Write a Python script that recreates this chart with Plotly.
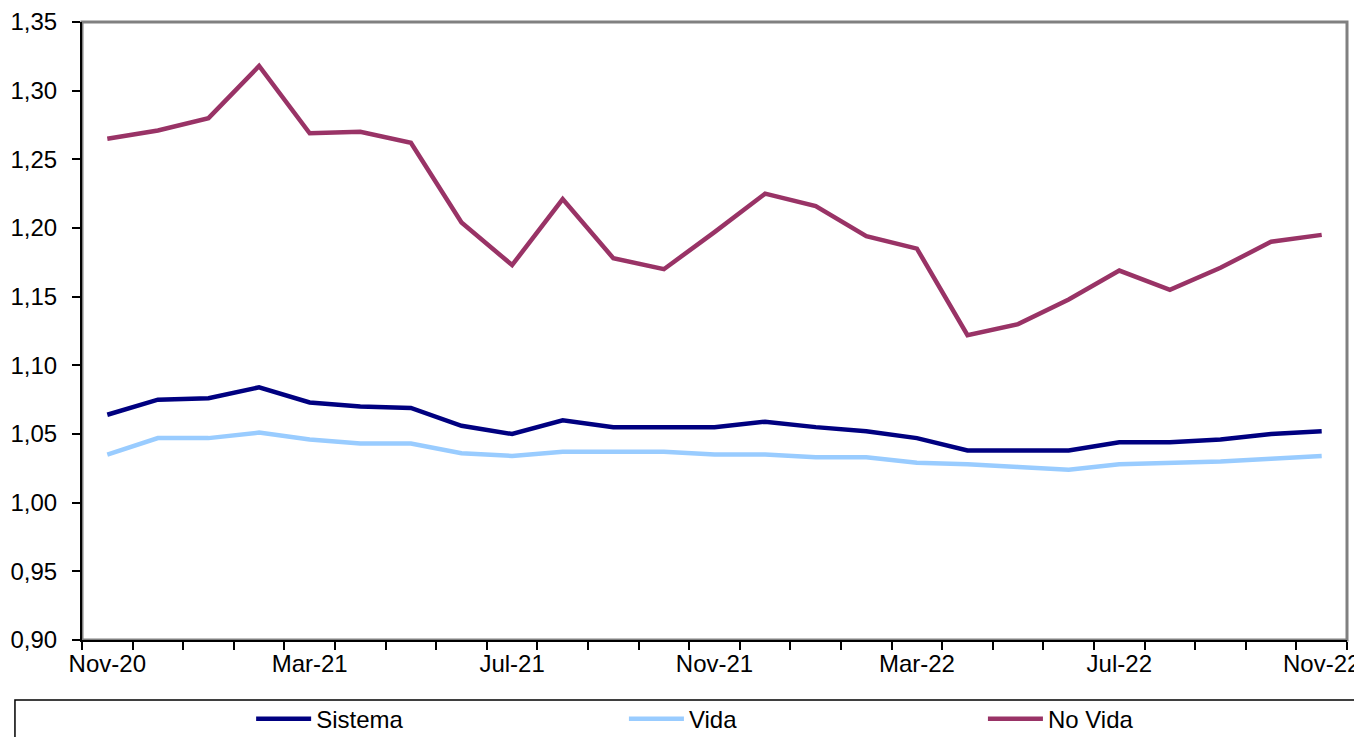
import plotly.graph_objects as go

months = ["Nov-20", "Dic-20", "Ene-21", "Feb-21", "Mar-21", "Abr-21", "May-21", "Jun-21",
          "Jul-21", "Ago-21", "Sep-21", "Oct-21", "Nov-21", "Dic-21", "Ene-22", "Feb-22",
          "Mar-22", "Abr-22", "May-22", "Jun-22", "Jul-22", "Ago-22", "Sep-22", "Oct-22", "Nov-22"]
tick_labels = ["Nov-20", "Mar-21", "Jul-21", "Nov-21", "Mar-22", "Jul-22", "Nov-22"]

sistema = [1.064, 1.075, 1.076, 1.084, 1.073, 1.070, 1.069, 1.056, 1.050, 1.060, 1.055, 1.055,
           1.055, 1.059, 1.055, 1.052, 1.047, 1.038, 1.038, 1.038, 1.044, 1.044, 1.046, 1.050, 1.052]
vida = [1.035, 1.047, 1.047, 1.051, 1.046, 1.043, 1.043, 1.036, 1.034, 1.037, 1.037, 1.037,
        1.035, 1.035, 1.033, 1.033, 1.029, 1.028, 1.026, 1.024, 1.028, 1.029, 1.030, 1.032, 1.034]
no_vida = [1.265, 1.271, 1.280, 1.318, 1.269, 1.270, 1.262, 1.204, 1.173, 1.221, 1.178, 1.170,
           1.197, 1.225, 1.216, 1.194, 1.185, 1.122, 1.130, 1.148, 1.169, 1.155, 1.171, 1.190, 1.195]

FONT = "Liberation Sans, Arial, sans-serif"
FS = 24
LW = 4.5
idx = list(range(len(months)))

fig = go.Figure()
fig.add_trace(go.Scatter(x=idx, y=sistema, name="Sistema", mode="lines",
                         line=dict(color="#000080", width=LW), legend="legend"))
fig.add_trace(go.Scatter(x=idx, y=vida, name="Vida", mode="lines",
                         line=dict(color="#99CCFF", width=LW), legend="legend2"))
fig.add_trace(go.Scatter(x=idx, y=no_vida, name="No Vida", mode="lines",
                         line=dict(color="#993366", width=LW), legend="legend3"))

leg_common = dict(orientation="h", yanchor="middle", y=-0.128, xanchor="left",
                  font=dict(family=FONT, size=FS, color="black"),
                  bgcolor="rgba(0,0,0,0)", borderwidth=0, itemwidth=55)

# frame (gray top/right)
fig.add_shape(type="rect", xref="paper", yref="paper", x0=0, x1=1, y0=0, y1=1,
              line=dict(color="#808080", width=3), layer="below")
# legend box
fig.add_shape(type="rect", xref="paper", yref="paper", x0=-0.053, x1=1.011, y0=-0.097, y1=-0.25,
              line=dict(color="black", width=1.5), layer="below")

# page body has an 8px default margin: size the figure so the plot area lands where the reference has it
fig.update_layout(
    width=1354, height=729,
    margin=dict(l=74, r=15, t=14, b=97, autoexpand=False),
    paper_bgcolor="white", plot_bgcolor="white",
    separators=",.",
    font=dict(family=FONT, size=FS, color="black"),
    showlegend=True,
    legend=dict(x=0.1337, **leg_common),
    legend2=dict(x=0.4284, **leg_common),
    legend3=dict(x=0.7122, **leg_common),
    xaxis=dict(range=[-0.5, len(months) - 0.5], tickmode="array",
               tickvals=[months.index(t) for t in tick_labels], ticktext=tick_labels,
               ticks="", showgrid=False, zeroline=False, automargin=False,
               ticklabeloverflow="allow", ticklabelstandoff=1,
               showline=True, linecolor="black", linewidth=2,
               tickfont=dict(family=FONT, size=FS, color="black"),
               minor=dict(tickmode="array",
                          tickvals=[i - 0.5 for i in range(len(months) + 1)],
                          ticks="outside", ticklen=8, tickwidth=1.5, tickcolor="black",
                          showgrid=False)),
    yaxis=dict(range=[0.9, 1.35], dtick=0.05, tick0=0.9, tickformat=".2f",
               ticks="outside", ticklen=8, tickwidth=1.5, tickcolor="black",
               showgrid=False, zeroline=False, automargin=False,
               ticklabeloverflow="allow",
               showline=True, linecolor="black", linewidth=2,
               ticklabelstandoff=10,
               tickfont=dict(family=FONT, size=FS, color="black")),
)

fig.write_html("out.html")
